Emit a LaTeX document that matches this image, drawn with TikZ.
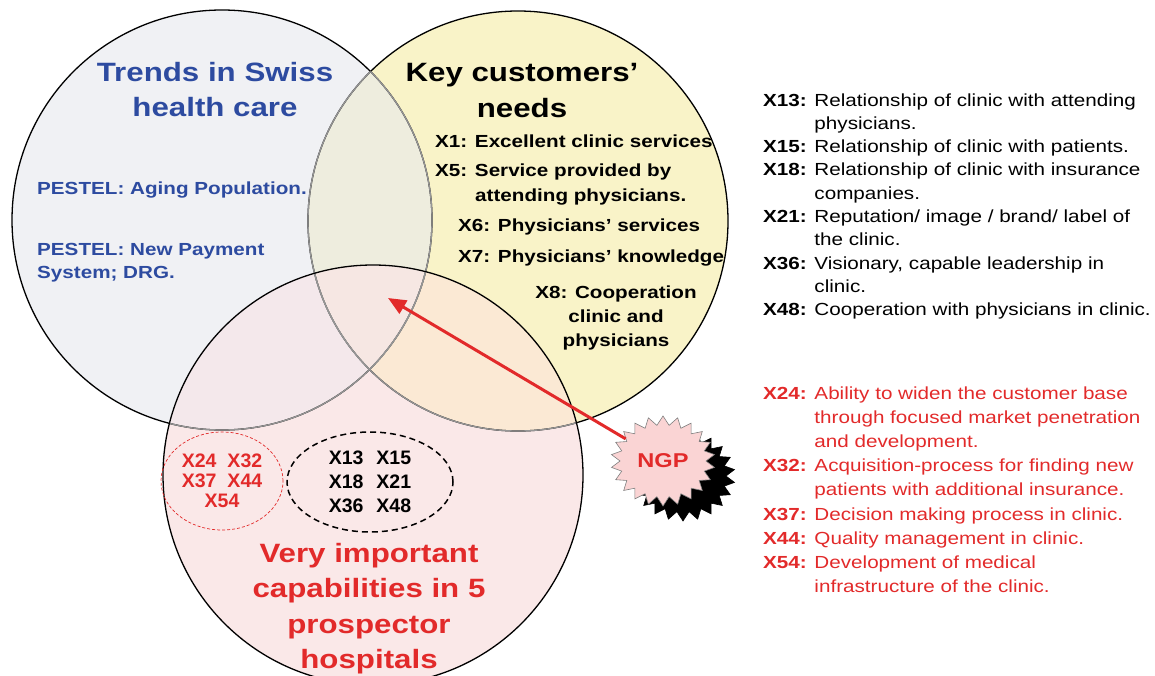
\documentclass[tikz,border=0pt]{standalone}
\usepackage{fontspec}
\setmainfont{Liberation Sans}[FakeStretch=1.18]
\newfontfamily\codefont{Liberation Sans}
\usetikzlibrary{shapes.symbols,shapes.geometric,shadows,arrows.meta}

\definecolor{trendgray}{RGB}{240,241,244}
\definecolor{needyellow}{RGB}{249,243,200}
\definecolor{mixgy}{RGB}{238,237,222}
\definecolor{cappink}{RGB}{250,232,232}
\definecolor{mixgp}{RGB}{244,232,235}
\definecolor{mixyp}{RGB}{251,233,212}
\definecolor{mixall}{RGB}{246,231,227}
\definecolor{swissblue}{RGB}{45,75,160}
\definecolor{capred}{RGB}{226,42,42}
\definecolor{innergray}{RGB}{150,150,150}
\definecolor{ngppink}{RGB}{250,212,212}

\def\rayon{210pt}
\newcommand{\listindent}{\phantom{\textbf{X00:} }}

\begin{document}
\begin{tikzpicture}[x=1pt, y=-1pt,
    ring/.style={line width=1.3pt, black},
    innerring/.style={line width=1.3pt, innergray},
    headtext/.style={font=\fontsize{26.5}{35.5}\selectfont\bfseries, align=center, anchor=base, inner sep=0pt},
    itemtext/.style={font=\fontsize{17.5}{24}\selectfont\bfseries, align=left, anchor=base west, inner sep=0pt},
    listtext/.style={font=\fontsize{17.5}{23.3}\selectfont, align=left, anchor=base west, inner sep=0pt},
    codering/.style={ellipse, inner sep=0pt, align=center},
    ngpstar/.style={starburst, starburst points=22, starburst point height=9pt, random starburst=0,
        draw=gray, line width=0.6pt, fill=ngppink, minimum width=104pt, minimum height=90pt,
        inner sep=0pt, text=capred, font=\fontsize{20}{24}\selectfont\bfseries,
        copy shadow={shadow xshift=20pt, shadow yshift=-15pt, fill=black, draw=black}},
    ngparrow/.style={capred, line width=3pt, -{Triangle[length=18pt, width=15pt]}}]
\useasboundingbox (0,0) rectangle (1155,676);
\clip (0,0) rectangle (1155,676);
%\draw[step=50, very thin, black!20] (0,0) grid (1155,676);

    \coordinate (trend) at (222,220);
    \coordinate (need) at (518,221);
    \coordinate (cap) at (373,475);
    \coordinate (hub) at (388,298);

    % fills
    \fill[trendgray] (trend) circle (\rayon);
    \fill[needyellow] (need) circle (\rayon);
    \begin{scope}
      \clip (trend) circle (\rayon);
      \fill[mixgy] (need) circle (\rayon);
    \end{scope}
    \fill[cappink] (cap) circle (\rayon);
    \begin{scope}
      \clip (cap) circle (\rayon);
      \fill[mixgp] (trend) circle (\rayon);
      \fill[mixyp] (need) circle (\rayon);
      \clip (trend) circle (\rayon);
      \fill[mixall] (need) circle (\rayon);
    \end{scope}

    % borders
    \draw[ring] (trend) circle (\rayon);
    \draw[ring] (need) circle (\rayon);
    \begin{scope}
      \clip (need) circle (\rayon);
      \draw[innerring] (trend) circle (\rayon);
    \end{scope}
    \begin{scope}
      \clip (trend) circle (\rayon);
      \draw[innerring] (need) circle (\rayon);
    \end{scope}
    \begin{scope}
      \clip (cap) circle (\rayon);
      \draw[innerring] (trend) circle (\rayon);
      \draw[innerring] (need) circle (\rayon);
    \end{scope}
    \draw[ring] (cap) circle (\rayon);

    % trends (base = last line)
    \node[headtext, swissblue] (trendtitle) at (215,117) {Trends in Swiss\\health care};
    \node[itemtext, swissblue] (aging) at (37,195) {PESTEL: Aging Population.};
    \node[itemtext, swissblue, font=\fontsize{17.5}{23}\selectfont\bfseries] (drg) at (37,278) {PESTEL: New Payment\\System; DRG.};

    % needs
    \node[headtext] (needtitle) at (522,117.5) {Key customers'\\needs};
    \node[itemtext] (x1) at (435,148) {X1: Excellent clinic services};
    \node[itemtext, font=\fontsize{17.5}{25}\selectfont\bfseries] (x5) at (435,202) {X5: Service provided by\\\hspace*{40pt}attending physicians.};
    \node[itemtext] (x6) at (458,232) {X6: Physicians' services};
    \node[itemtext] (x7) at (458,262) {X7: Physicians' knowledge};
    \node[itemtext, anchor=base, align=center] (x8) at (616,346) {X8: Cooperation\\clinic and\\physicians};

    % capabilities
    \node[headtext, capred] (captitle) at (369,668.5) {Very important\\capabilities in 5\\prospector\\hospitals};
    \node[codering, draw=capred, text=capred, dash pattern=on 3pt off 2pt, line width=0.7pt,
          minimum width=122pt, minimum height=98pt, font=\codefont\fontsize{19.5}{20}\selectfont\bfseries]
          (redset) at (222,481) {X24\hspace{11pt}X32\\X37\hspace{11pt}X44\\X54};
    \node[codering, draw=black, dash pattern=on 6pt off 4pt, line width=1.5pt,
          minimum width=166pt, minimum height=100pt, font=\codefont\fontsize{19.5}{24}\selectfont\bfseries]
          (blackset) at (370,482) {X13\hspace{13pt}X15\\X18\hspace{13pt}X21\\X36\hspace{13pt}X48};

    % lists
    \node[listtext] (blacklist) at (763,315.7) {%
      \textbf{X13:} Relationship of clinic with attending\\
      \listindent physicians.\\
      \textbf{X15:} Relationship of clinic with patients.\\
      \textbf{X18:} Relationship of clinic with insurance\\
      \listindent companies.\\
      \textbf{X21:} Reputation/ image / brand/ label of\\
      \listindent the clinic.\\
      \textbf{X36:} Visionary, capable leadership in\\
      \listindent clinic.\\
      \textbf{X48:} Cooperation with physicians in clinic.};
    \node[listtext, capred, font=\fontsize{17.5}{24.2}\selectfont] (redlist) at (763,592.6) {%
      \textbf{X24:} Ability to widen the customer base\\
      \listindent through focused market penetration\\
      \listindent and development.\\
      \textbf{X32:} Acquisition-process for finding new\\
      \listindent patients with additional insurance.\\
      \textbf{X37:} Decision making process in clinic.\\
      \textbf{X44:} Quality management in clinic.\\
      \textbf{X54:} Development of medical\\
      \listindent infrastructure of the clinic.};

    % NGP
    \node[ngpstar] (ngp) at (663,461) {NGP};
    \draw[ngparrow] (ngp) -- (hub);

\end{tikzpicture}
\end{document}
